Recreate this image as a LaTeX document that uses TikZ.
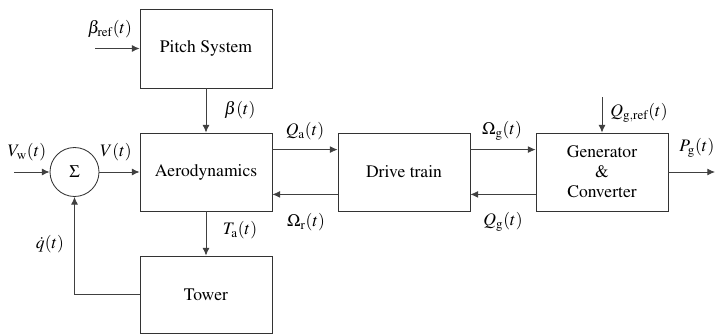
\documentclass[tikz,border=0pt]{standalone}
\usepackage[T1]{fontenc}
\usepackage{mathptmx}
\usetikzlibrary{arrows.meta}

\begin{document}
\begin{tikzpicture}[
	font=\fontsize{12.5}{15}\selectfont,
	block/.style={draw=black!80, line width=0.6pt, minimum width=3.3cm, minimum height=1.95cm, align=center},
	sumnode/.style={draw=black!80, line width=0.6pt, circle, minimum size=1.225cm, inner sep=0pt},
	sig/.style={draw=black!75, line width=0.6pt, -{Latex[length=1.9mm,width=1.7mm]}},
	lbl/.style={inner sep=1pt},
	]
	\useasboundingbox (0,0) rectangle (17.9,-8.375);

	% blocks
	\node[block, minimum height=1.975cm] (pitch) at (5.15,-1.2125) {Pitch System};
	\node[block] (aero) at (5.15,-4.3) {Aerodynamics};
	\node[block] (drive) at (10.1,-4.3) {Drive train};
	\node[block, font=\fontsize{12.5}{14.2}\selectfont] (gen) at (15.05,-4.3) {Generator\\\&\\Converter};
	\node[block, minimum height=1.925cm] (tower) at (5.15,-7.3625) {Tower};
	\node[sumnode] (sum) at (1.8625,-4.3) {$\Sigma$};

	% free ends
	\coordinate (wind) at (0.35,-4.3);
	\coordinate (betaref) at (2.375,-1.2125);
	\coordinate (qgref) at (15.05,-2.425);
	\coordinate (power) at (17.875,-4.3);

	% signals
	\draw[sig] (wind) -- (sum);
	\draw[sig] (sum) -- (aero);
	\draw[sig] (betaref) -- (pitch);
	\draw[sig] (pitch) -- (aero);
	\draw[sig] (aero) -- (tower);
	\draw[sig] (tower.west) -| (sum.south);
	\draw[sig] ([yshift=0.56cm]aero.east) -- ([yshift=0.56cm]drive.west);
	\draw[sig] ([yshift=-0.56cm]drive.west) -- ([yshift=-0.56cm]aero.east);
	\draw[sig] ([yshift=0.56cm]drive.east) -- ([yshift=0.56cm]gen.west);
	\draw[sig] ([yshift=-0.56cm]gen.west) -- ([yshift=-0.56cm]drive.east);
	\draw[sig] (qgref) -- (gen);
	\draw[sig] (gen) -- (power);

	% labels
	\node[lbl] (lbetaref) at (2.75,-0.72) {$\beta_{\mathrm{ref}}(t)$};
	\node[lbl] (lbeta) at (6.0,-2.75) {$\beta(t)$};
	\node[lbl] (lvw) at (0.675,-3.8) {$V_{\mathrm{w}}(t)$};
	\node[lbl] (lv) at (2.9,-3.8) {$V(t)$};
	\node[lbl] (lqa) at (7.625,-3.275) {$Q_{\mathrm{a}}(t)$};
	\node[lbl] (lomr) at (7.65,-5.55) {$\Omega_{\mathrm{r}}(t)$};
	\node[lbl] (lomg) at (12.55,-3.275) {$\Omega_{\mathrm{g}}(t)$};
	\node[lbl] (lqg) at (12.575,-5.55) {$Q_{\mathrm{g}}(t)$};
	\node[lbl] (lqgref) at (15.975,-2.825) {$Q_{\mathrm{g,ref}}(t)$};
	\node[lbl, anchor=east] (lpg) at (17.9,-3.7) {$P_{\mathrm{g}}(t)$};
	\node[lbl] (lta) at (6.0,-5.75) {$T_{\mathrm{a}}(t)$};
	\node[lbl] (lqdot) at (1.25,-6.1) {$\dot q(t)$};

\end{tikzpicture}
\end{document}
